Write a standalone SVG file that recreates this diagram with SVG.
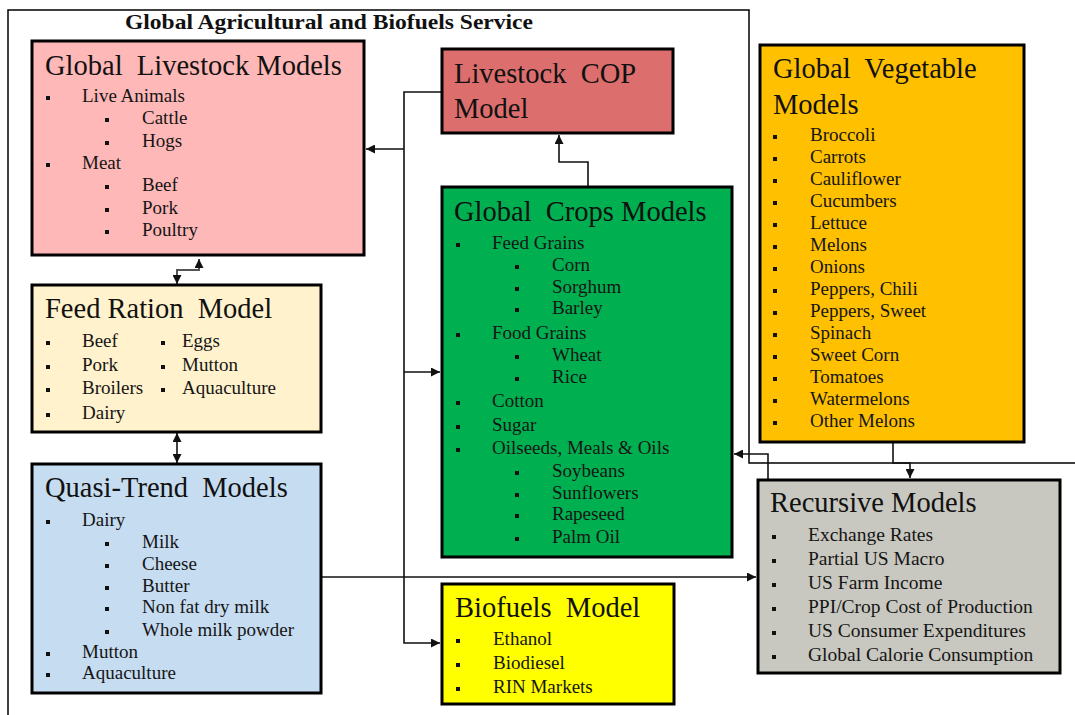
<svg xmlns="http://www.w3.org/2000/svg" width="1075" height="715" viewBox="0 0 1075 715">
  <style>
    .box { stroke: #000; stroke-width: 3; }
    .hd { font-family: "Liberation Serif", "Times New Roman", serif; font-size: 28.5px; fill: #111; white-space: pre; }
    .it { font-family: "Liberation Serif", "Times New Roman", serif; font-size: 19px; fill: #151515; }
    .ir { font-family: "Liberation Serif", "Times New Roman", serif; font-size: 19.5px; fill: #151515; }
    .frame { fill: none; stroke: #000; stroke-width: 1.5; }
    .c { fill: none; stroke: #111; stroke-width: 1.6; }
    .cg { fill: none; stroke: #555; stroke-width: 2; }
    .b { fill: #111; }
  </style>
  <defs>
    <marker id="arr" viewBox="0 0 10 10" refX="10" refY="5" markerWidth="9" markerHeight="9" markerUnits="userSpaceOnUse" orient="auto-start-reverse">
      <path d="M0,0 L10,5 L0,10 z" fill="#111"/>
    </marker>
  </defs>

  <rect width="1075" height="715" fill="#fff"/>

  <!-- outer service frame -->
  <g id="frame">
    <path class="frame" d="M8,715 L8,10 L749,10 L749,463 L1075,463"/>
    <text x="329" y="29" text-anchor="middle" font-family="'Liberation Serif', 'Times New Roman', serif" font-weight="bold" font-size="21px" fill="#111" textLength="408" lengthAdjust="spacingAndGlyphs">Global Agricultural and Biofuels Service</text>
  </g>

  <!-- connectors -->
  <g id="connectors">
    <!-- COP bus down the left of the crops column -->
    <path class="c" d="M442,92 L404,92 L404,643 L440,643" marker-end="url(#arr)"/>
    <path class="c" d="M404,149 L366,149" marker-end="url(#arr)"/>
    <path class="c" d="M404,372 L440,372" marker-end="url(#arr)"/>
    <!-- crops to COP -->
    <path class="c" d="M588,186 L588,162 L559,162 L559,135" marker-end="url(#arr)"/>
    <!-- livestock <-> feed ration -->
    <path class="cg" d="M199,259 L199,270 L177,270 L177,284" marker-start="url(#arr)" marker-end="url(#arr)"/>
    <!-- feed ration <-> quasi-trend -->
    <path class="c" d="M177,433 L177,463" marker-start="url(#arr)" marker-end="url(#arr)"/>
    <!-- quasi-trend to recursive -->
    <path class="c" d="M321,577 L756,577" marker-end="url(#arr)"/>
    <!-- recursive to crops -->
    <path class="c" d="M768,479 L768,454 L734,454" marker-end="url(#arr)"/>
    <!-- vegetable to recursive -->
    <path class="c" d="M893,442 L893,463 L910,463 L910,478" marker-end="url(#arr)"/>
  </g>

  <!-- Global Livestock Models -->
  <g id="livestock">
    <rect class="box" x="32" y="41" width="332" height="214" fill="#FFB8B8"/>
    <text class="hd" x="45" y="75">Global  Livestock Models</text>
    <rect class="b" x="46" y="96" width="4" height="4"/><text class="it" x="82" y="102">Live Animals</text>
    <rect class="b" x="105" y="118" width="4" height="4"/><text class="it" x="142" y="124">Cattle</text>
    <rect class="b" x="105" y="141" width="4" height="4"/><text class="it" x="142" y="147">Hogs</text>
    <rect class="b" x="46" y="163" width="4" height="4"/><text class="it" x="82" y="169">Meat</text>
    <rect class="b" x="105" y="185" width="4" height="4"/><text class="it" x="142" y="191">Beef</text>
    <rect class="b" x="105" y="208" width="4" height="4"/><text class="it" x="142" y="214">Pork</text>
    <rect class="b" x="105" y="230" width="4" height="4"/><text class="it" x="142" y="236">Poultry</text>
  </g>

  <!-- Livestock COP Model -->
  <g id="livestock-cop">
    <rect class="box" x="442" y="49" width="231" height="84" fill="#DC6E6E"/>
    <text class="hd" x="454" y="83">Livestock  COP</text>
    <text class="hd" x="454" y="118">Model</text>
  </g>

  <!-- Global Crops Models -->
  <g id="crops">
    <rect class="box" x="442" y="187" width="290" height="370" fill="#00B050"/>
    <text class="hd" x="454" y="221">Global  Crops Models</text>
    <rect class="b" x="456" y="243" width="4" height="4"/><text class="it" x="492" y="249">Feed Grains</text>
    <rect class="b" x="515" y="265" width="4" height="4"/><text class="it" x="552" y="271">Corn</text>
    <rect class="b" x="515" y="287" width="4" height="4"/><text class="it" x="552" y="293">Sorghum</text>
    <rect class="b" x="515" y="308" width="4" height="4"/><text class="it" x="552" y="314">Barley</text>
    <rect class="b" x="456" y="333" width="4" height="4"/><text class="it" x="492" y="339">Food Grains</text>
    <rect class="b" x="515" y="355" width="4" height="4"/><text class="it" x="552" y="361">Wheat</text>
    <rect class="b" x="515" y="377" width="4" height="4"/><text class="it" x="552" y="383">Rice</text>
    <rect class="b" x="456" y="401" width="4" height="4"/><text class="it" x="492" y="407">Cotton</text>
    <rect class="b" x="456" y="425" width="4" height="4"/><text class="it" x="492" y="431">Sugar</text>
    <rect class="b" x="456" y="448" width="4" height="4"/><text class="it" x="492" y="454">Oilseeds, Meals &amp; Oils</text>
    <rect class="b" x="515" y="471" width="4" height="4"/><text class="it" x="552" y="477">Soybeans</text>
    <rect class="b" x="515" y="493" width="4" height="4"/><text class="it" x="552" y="499">Sunflowers</text>
    <rect class="b" x="515" y="514" width="4" height="4"/><text class="it" x="552" y="520">Rapeseed</text>
    <rect class="b" x="515" y="537" width="4" height="4"/><text class="it" x="552" y="543">Palm Oil</text>
  </g>

  <!-- Global Vegetable Models -->
  <g id="vegetable">
    <rect class="box" x="760" y="45" width="264" height="397" fill="#FFC000"/>
    <text class="hd" x="773" y="78">Global  Vegetable</text>
    <text class="hd" x="773" y="114">Models</text>
    <rect class="b" x="773" y="135" width="4" height="4"/><text class="it" x="810" y="141">Broccoli</text>
    <rect class="b" x="773" y="157" width="4" height="4"/><text class="it" x="810" y="163">Carrots</text>
    <rect class="b" x="773" y="179" width="4" height="4"/><text class="it" x="810" y="185">Cauliflower</text>
    <rect class="b" x="773" y="201" width="4" height="4"/><text class="it" x="810" y="207">Cucumbers</text>
    <rect class="b" x="773" y="223" width="4" height="4"/><text class="it" x="810" y="229">Lettuce</text>
    <rect class="b" x="773" y="245" width="4" height="4"/><text class="it" x="810" y="251">Melons</text>
    <rect class="b" x="773" y="267" width="4" height="4"/><text class="it" x="810" y="273">Onions</text>
    <rect class="b" x="773" y="289" width="4" height="4"/><text class="it" x="810" y="295">Peppers, Chili</text>
    <rect class="b" x="773" y="311" width="4" height="4"/><text class="it" x="810" y="317">Peppers, Sweet</text>
    <rect class="b" x="773" y="333" width="4" height="4"/><text class="it" x="810" y="339">Spinach</text>
    <rect class="b" x="773" y="355" width="4" height="4"/><text class="it" x="810" y="361">Sweet Corn</text>
    <rect class="b" x="773" y="377" width="4" height="4"/><text class="it" x="810" y="383">Tomatoes</text>
    <rect class="b" x="773" y="399" width="4" height="4"/><text class="it" x="810" y="405">Watermelons</text>
    <rect class="b" x="773" y="421" width="4" height="4"/><text class="it" x="810" y="427">Other Melons</text>
  </g>

  <!-- Feed Ration Model -->
  <g id="feed-ration">
    <rect class="box" x="32" y="285" width="289" height="147" fill="#FFF2CC"/>
    <text class="hd" x="45" y="318">Feed Ration  Model</text>
    <rect class="b" x="46" y="341" width="4" height="4"/><text class="it" x="82" y="347">Beef</text>
    <rect class="b" x="46" y="365" width="4" height="4"/><text class="it" x="82" y="371">Pork</text>
    <rect class="b" x="46" y="388" width="4" height="4"/><text class="it" x="82" y="394">Broilers</text>
    <rect class="b" x="46" y="413" width="4" height="4"/><text class="it" x="82" y="419">Dairy</text>
    <rect class="b" x="161" y="341" width="4" height="4"/><text class="it" x="182" y="347">Eggs</text>
    <rect class="b" x="161" y="365" width="4" height="4"/><text class="it" x="182" y="371">Mutton</text>
    <rect class="b" x="161" y="388" width="4" height="4"/><text class="it" x="182" y="394">Aquaculture</text>
  </g>

  <!-- Quasi-Trend Models -->
  <g id="quasi-trend">
    <rect class="box" x="32" y="464" width="289" height="229" fill="#C6DCF1"/>
    <text class="hd" x="45" y="497">Quasi-Trend  Models</text>
    <rect class="b" x="46" y="520" width="4" height="4"/><text class="it" x="82" y="526">Dairy</text>
    <rect class="b" x="105" y="542" width="4" height="4"/><text class="it" x="142" y="548">Milk</text>
    <rect class="b" x="105" y="564" width="4" height="4"/><text class="it" x="142" y="570">Cheese</text>
    <rect class="b" x="105" y="586" width="4" height="4"/><text class="it" x="142" y="592">Butter</text>
    <rect class="b" x="105" y="607" width="4" height="4"/><text class="it" x="142" y="613">Non fat dry milk</text>
    <rect class="b" x="105" y="630" width="4" height="4"/><text class="it" x="142" y="636">Whole milk powder</text>
    <rect class="b" x="46" y="652" width="4" height="4"/><text class="it" x="82" y="658">Mutton</text>
    <rect class="b" x="46" y="673" width="4" height="4"/><text class="it" x="82" y="679">Aquaculture</text>
  </g>

  <!-- Biofuels Model -->
  <g id="biofuels">
    <rect class="box" x="442" y="584" width="232" height="120" fill="#FFFF00"/>
    <text class="hd" x="455" y="617">Biofuels  Model</text>
    <rect class="b" x="456" y="639" width="4" height="4"/><text class="it" x="493" y="645">Ethanol</text>
    <rect class="b" x="456" y="663" width="4" height="4"/><text class="it" x="493" y="669">Biodiesel</text>
    <rect class="b" x="456" y="687" width="4" height="4"/><text class="it" x="493" y="693">RIN Markets</text>
  </g>

  <!-- Recursive Models -->
  <g id="recursive">
    <rect class="box" x="758" y="480" width="302" height="193" fill="#C8C8C0"/>
    <text class="hd" x="770" y="512">Recursive Models</text>
    <rect class="b" x="772" y="535" width="4" height="4"/><text class="ir" x="808" y="541">Exchange  Rates</text>
    <rect class="b" x="772" y="559" width="4" height="4"/><text class="ir" x="808" y="565">Partial US Macro</text>
    <rect class="b" x="772" y="583" width="4" height="4"/><text class="ir" x="808" y="589">US Farm Income</text>
    <rect class="b" x="772" y="607" width="4" height="4"/><text class="ir" x="808" y="613">PPI/Crop Cost of Production</text>
    <rect class="b" x="772" y="631" width="4" height="4"/><text class="ir" x="808" y="637">US Consumer Expenditures</text>
    <rect class="b" x="772" y="655" width="4" height="4"/><text class="ir" x="808" y="661">Global Calorie Consumption</text>
  </g>
</svg>
